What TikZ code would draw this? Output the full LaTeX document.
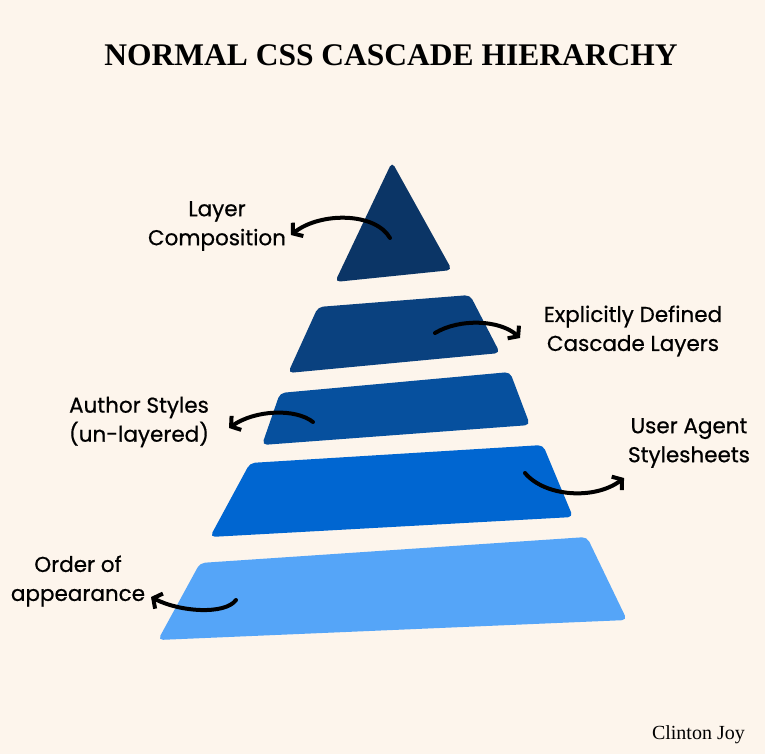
\documentclass[tikz,border=0pt]{standalone}
\usepackage{fontspec}
\setmainfont{Liberation Serif}
\newfontfamily\handfont[FakeBold=0.6]{Poppins}
\usetikzlibrary{arrows.meta}
\definecolor{bg}{HTML}{FDF5EC}
\definecolor{cA}{HTML}{0B3566}
\definecolor{cB}{HTML}{0A417F}
\definecolor{cC}{HTML}{06509E}
\definecolor{cD}{HTML}{0066D1}
\definecolor{cE}{HTML}{55A5F8}
\tikzset{
  layer/.style={rounded corners=5pt},
  lbl/.style={font=\handfont\fontsize{21.5}{29}\selectfont, align=center, inner sep=0pt, text=black},
  arr/.style={line width=4pt, line cap=round, -{Straight Barb[length=6.5pt,width=17pt]}}
}
\begin{document}
\begin{tikzpicture}[x=1pt,y=-1pt]
\fill[bg] (0,0) rectangle (765,754);
\useasboundingbox (0,0) rectangle (765,754);

\node[font=\bfseries\fontsize{31.5}{33}\selectfont, inner sep=0pt] (title) at (391,55) {NORMAL CSS CASCADE HIERARCHY};

% pyramid layers
\fill[cA, layer] (392,162) -- (452,270) -- (335,282) -- cycle;
\fill[cB, layer] (318,307) -- (470,295) -- (500,353) -- (288,373) -- cycle;
\fill[cC, layer] (280,393) -- (510,372) -- (530,425) -- (262,445) -- cycle;
\fill[cD, layer] (250,463) -- (543,445) -- (573,517) -- (210,537) -- cycle;
\fill[cE, layer] (200,563) -- (587,537) -- (627,620) -- (158,640) -- cycle;

% labels
\node[lbl] (l1) at (217,226) {Layer\\Composition};
\node[lbl] (l2) at (633,331) {Explicitly Defined\\Cascade Layers};
\node[lbl] (l3) at (139,422) {Author Styles\\(un-layered)};
\node[lbl] (l4) at (689,443) {User Agent\\Stylesheets};
\node[lbl] (l5) at (78,581) {Order of\\appearance};

\node[font=\fontsize{20}{22}\selectfont, anchor=east, inner sep=0pt] (sig) at (745,735) {Clinton Joy};

% arrows
\coordinate (s1) at (390,238); \coordinate (e1) at (291,235);
\coordinate (s2) at (435,333); \coordinate (e2) at (520,338);
\coordinate (s3) at (313,422); \coordinate (e3) at (229,428);
\coordinate (s4) at (525,473); \coordinate (e4) at (624,478);
\coordinate (s5) at (236,600); \coordinate (e5) at (151,597);

\draw[arr] (s1) .. controls (375,212) and (320,212) .. (e1);
\draw[arr] (s2) .. controls (460,318) and (500,320) .. (e2);
\draw[arr] (s3) .. controls (295,408) and (255,410) .. (e3);
\draw[arr] (s4) .. controls (545,497) and (595,500) .. (e4);
\draw[arr] (s5) .. controls (225,615) and (180,612) .. (e5);
\end{tikzpicture}
\end{document}
